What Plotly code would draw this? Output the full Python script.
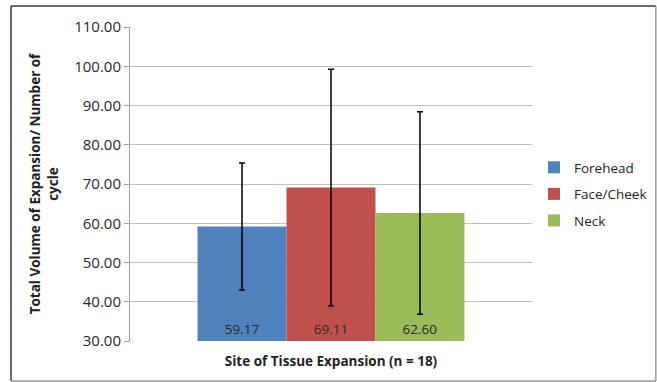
import plotly.graph_objects as go

category = ["Site of Tissue Expansion (n = 18)"]
series = ["Forehead", "Face/Cheek", "Neck"]
means = [59.17, 69.11, 62.60]
sds = [16.2, 30.1, 25.8]
colors = ["#4F81BD", "#C0504D", "#9BBB59"]
yticks = [30, 40, 50, 60, 70, 80, 90, 100, 110]

FONT = "Open Sans, Liberation Sans, sans-serif"

fig = go.Figure()
for name, m, s, c in zip(series, means, sds, colors):
    fig.add_trace(go.Bar(
        x=["x"], y=[m - 30], base=30, name=name, marker_color=c,
        marker_line_width=0,
        text=[f"{m:.2f}"], textposition="inside", insidetextanchor="start",
        textfont=dict(size=13.5, color="#2A2A2A", family=FONT),
        error_y=dict(type="data", array=[s], color="#000000", thickness=1.5, width=3),
        legendgroup=name,
    ))

# border lines (top/left dark, right/bottom lighter)
x0, x1, y0, y1 = -0.296, 1.308, -0.127, 1.067
shapes = [
    dict(type="line", xref="paper", yref="paper", x0=x0, x1=x1, y0=y1, y1=y1,
         line=dict(color="#3A3A3A", width=1.5)),
    dict(type="line", xref="paper", yref="paper", x0=x0, x1=x0, y0=y0, y1=y1,
         line=dict(color="#3A3A3A", width=1.5)),
    dict(type="line", xref="paper", yref="paper", x0=x1, x1=x1, y0=y0, y1=y1,
         line=dict(color="#999999", width=1.5)),
    dict(type="line", xref="paper", yref="paper", x0=x0, x1=x1, y0=y0, y1=y0,
         line=dict(color="#999999", width=1.5)),
]

fig.update_layout(
    width=657, height=382,
    margin=dict(l=130, r=125, t=27, b=41, autoexpand=False),
    paper_bgcolor="white", plot_bgcolor="white",
    barmode="group", bargap=0.336, bargroupgap=0,
    font=dict(family=FONT, color="#333333", size=13),
    showlegend=True,
    legend=dict(x=1.005, y=0.468, yanchor="middle", xanchor="left",
                font=dict(size=13.5, color="#222222"), tracegroupgap=6,
                itemwidth=30),
    xaxis=dict(showticklabels=False, showgrid=False, zeroline=False, showline=False,
               title=dict(text="<b>Site of Tissue Expansion (n = 18)</b>", standoff=15,
                          font=dict(size=13.5, color="#222222"))),
    yaxis=dict(range=[30, 110], tickvals=yticks, tickformat=".2f",
               showgrid=True, gridcolor="#C0C0C0", gridwidth=1,
               showline=True, linecolor="#A0A0A0", linewidth=1,
               ticks="outside", ticklen=5, tickcolor="#A0A0A0",
               tickfont=dict(size=15, color="#2A2A2A"),
               zeroline=False,
               title=dict(text="<b>Total Volume of Expansion/ Number of<br>cycle</b>",
                          standoff=12, font=dict(size=13.5, color="#222222"))),
    shapes=shapes,
)

fig.write_html("out.html", config={"displayModeBar": False},
               post_script="document.body.style.margin='0';document.body.style.padding='0';")
